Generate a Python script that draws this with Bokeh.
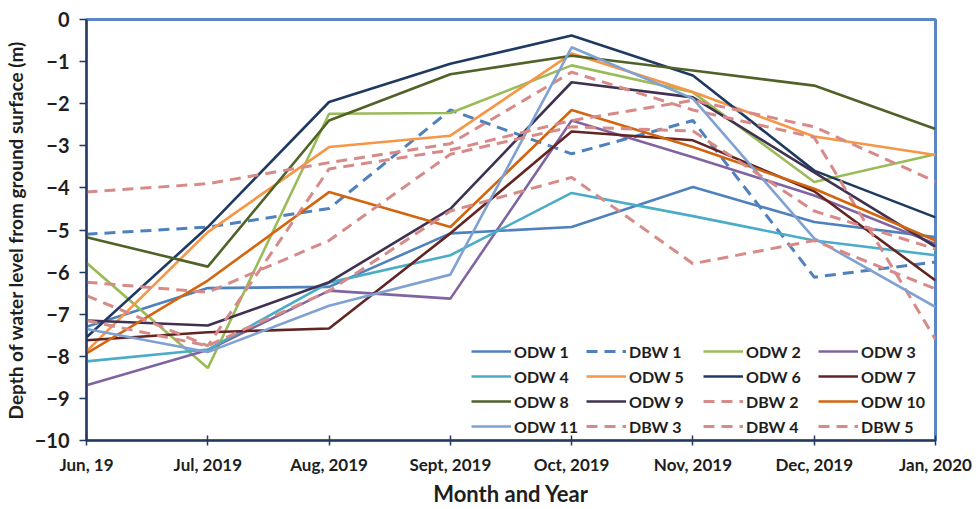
from bokeh.plotting import figure
from bokeh.models import Range1d, FixedTicker, Legend, LegendItem
from bokeh.embed import file_html
from bokeh.resources import INLINE

months = ["Jun, 19", "Jul, 2019", "Aug, 2019", "Sept, 2019",
          "Oct, 2019", "Nov, 2019", "Dec, 2019", "Jan, 2020"]
y_ticks = [0, -1, -2, -3, -4, -5, -6, -7, -8, -9, -10]

# depth of water level below ground surface (m), Jun 2019 - Jan 2020
odw1 = [-7.30, -6.38, -6.35, -5.08, -4.93, -3.98, -4.81, -5.17]
dbw1 = [-5.10, -4.93, -4.49, -2.15, -3.19, -2.40, -6.12, -5.76]
odw2 = [-5.78, -8.28, -2.24, -2.22, -1.09, -1.73, -3.86, -3.20]
odw3 = [-8.69, -7.85, -6.44, -6.63, -2.40, -3.27, -4.18, -5.33]
odw4 = [-8.12, -7.84, -6.25, -5.60, -4.12, -4.67, -5.25, -5.60]
odw5 = [-7.88, -5.05, -3.03, -2.76, -0.81, -1.72, -2.78, -3.22]
odw6 = [-7.55, -4.93, -1.96, -1.05, -0.38, -1.33, -3.59, -4.70]
odw7 = [-7.62, -7.43, -7.34, -5.08, -2.66, -2.87, -4.08, -6.20]
odw8 = [-5.17, -5.87, -2.40, -1.30, -0.86, -1.21, -1.57, -2.60]
odw9 = [-7.15, -7.27, -6.24, -4.50, -1.49, -1.85, -3.63, -5.40]
dbw2 = [-4.10, -3.90, -3.40, -2.95, -1.25, -2.15, -2.80, -7.60]
odw10 = [-7.93, -6.20, -4.10, -4.93, -2.15, -3.03, -4.02, -5.25]
odw11 = [-7.35, -7.90, -6.80, -6.06, -0.66, -1.88, -5.20, -6.83]
dbw3 = [-6.24, -6.48, -5.25, -3.20, -2.55, -2.65, -4.55, -5.45]
dbw4 = [-6.56, -7.75, -3.55, -3.10, -2.40, -1.92, -2.55, -3.85]
dbw5 = [-7.15, -7.75, -6.45, -4.55, -3.75, -5.80, -5.25, -6.40]

FONT = "Lato"
TEXT = "#1e1e1e"
AXIS = "#23395d"

p = figure(width=976, height=509, output_backend="svg", toolbar_location=None,
           x_range=Range1d(0, len(months) - 1), y_range=Range1d(-10, 0),
           min_border_left=85, min_border_right=41,
           min_border_top=19, min_border_bottom=69)
p.background_fill_color = "white"
p.border_fill_color = "white"
p.outline_line_color = "#5b88c4"
p.outline_line_width = 3
p.xgrid.visible = False
p.ygrid.visible = False

x = list(range(len(months)))
solid = dict(line_width=2.6)
dashed = dict(line_width=3, line_dash="11 7")
pink = "#d78b89"

series = [
    ("ODW 1", odw1, "#4f81bd", solid),
    ("DBW 1", dbw1, "#4f81bd", dashed),
    ("ODW 2", odw2, "#9bbb59", solid),
    ("ODW 3", odw3, "#8064a2", solid),
    ("ODW 4", odw4, "#4bacc6", solid),
    ("ODW 5", odw5, "#f79646", solid),
    ("ODW 6", odw6, "#1f3a60", solid),
    ("ODW 7", odw7, "#632523", solid),
    ("ODW 8", odw8, "#4f6228", solid),
    ("ODW 9", odw9, "#3f3151", solid),
    ("DBW 2", dbw2, pink, dashed),
    ("ODW 10", odw10, "#d2650e", solid),
    ("ODW 11", odw11, "#7fa2d3", solid),
    ("DBW 3", dbw3, pink, dashed),
    ("DBW 4", dbw4, pink, dashed),
    ("DBW 5", dbw5, pink, dashed),
]

renderers = {}
for name, vals, color, style in series:
    renderers[name] = p.line(x, vals, line_color=color, **style)

# axes
p.xaxis.ticker = FixedTicker(ticks=x)
p.xaxis.major_label_overrides = {i: m for i, m in enumerate(months)}
p.yaxis.ticker = FixedTicker(ticks=y_ticks)
p.yaxis.major_label_overrides = {v: ("0" if v == 0 else "\u2212" + str(-v)) for v in y_ticks}

for ax in (p.xaxis[0], p.yaxis[0]):
    ax.axis_line_color = AXIS
    ax.axis_line_width = 2
    ax.major_tick_line_color = AXIS
    ax.major_tick_line_width = 1.5
    ax.minor_tick_line_color = None
    ax.major_label_text_font = FONT
    ax.major_label_text_font_style = "bold"
    ax.major_label_text_color = TEXT
    ax.axis_label_text_font = FONT
    ax.axis_label_text_font_style = "bold"
    ax.axis_label_text_color = TEXT

p.xaxis.major_tick_in = 5
p.xaxis.major_tick_out = 5
p.xaxis.major_label_text_font_size = "17px"
p.xaxis.major_label_standoff = 8
p.xaxis.axis_label = "Month and Year"
p.xaxis.axis_label_text_font_size = "22px"
p.xaxis.axis_label_standoff = 2

p.yaxis.major_tick_in = 0
p.yaxis.major_tick_out = 7
p.yaxis.major_label_text_font_size = "20px"
p.yaxis.major_label_standoff = 10
p.yaxis.axis_label = "Depth of water level from ground surface (m)"
p.yaxis.axis_label_text_font_size = "19px"
p.yaxis.axis_label_standoff = 5

# legend: four aligned columns in the lower right of the plot area
columns = [
    (["ODW 1", "ODW 4", "ODW 8", "ODW 11"], 385),
    (["DBW 1", "ODW 5", "ODW 9", "DBW 3"], 500),
    (["ODW 2", "ODW 6", "DBW 2", "DBW 4"], 617),
    (["ODW 3", "ODW 7", "ODW 10", "DBW 5"], 732),
]
for names, xpos in columns:
    leg = Legend(items=[LegendItem(label=n, renderers=[renderers[n]]) for n in names],
                 location=(xpos, 4), orientation="vertical",
                 glyph_width=40, glyph_height=20, label_height=20, spacing=5,
                 label_standoff=3, padding=0, margin=0,
                 border_line_color=None, background_fill_alpha=0,
                 label_text_font=FONT, label_text_font_style="bold",
                 label_text_font_size="16px", label_text_color=TEXT)
    p.add_layout(leg, "center")

open("out.html", "w").write(file_html(p, INLINE))
